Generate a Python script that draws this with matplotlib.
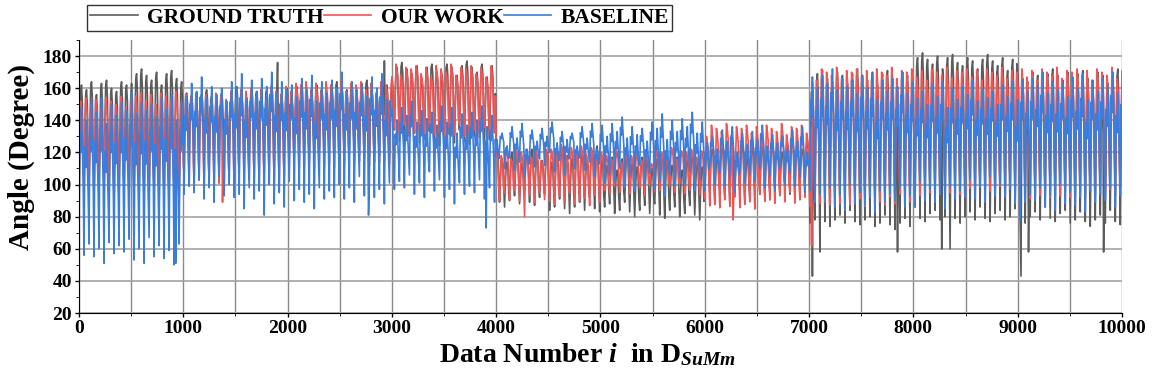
import numpy as np
import matplotlib
matplotlib.use("Agg")
import matplotlib.pyplot as plt
from matplotlib.ticker import MultipleLocator

plt.rcParams['font.family'] = ['Liberation Serif', 'DejaVu Serif']
plt.rcParams['font.weight'] = 'bold'
plt.rcParams['mathtext.fontset'] = 'custom'
plt.rcParams['mathtext.rm'] = 'Liberation Serif'
plt.rcParams['mathtext.it'] = 'Liberation Serif:italic:bold'
plt.rcParams['mathtext.bf'] = 'Liberation Serif:bold'

# envelope of each series per block of 500 samples (0-500, 500-1000, ... 9500-10000)
block_size = 500
step = 8          # samples between drawn points
per_cycle = 6     # drawn points per oscillation (~48 samples)

gt_high = [162, 168, 155, 158, 160, 162, 172, 173, 118, 120,
           115, 115, 122, 125, 168, 168, 178, 177, 168, 168]
gt_low = [90, 88, 120, 118, 120, 118, 128, 128, 90, 86,
          84, 82, 92, 95, 78, 76, 80, 80, 80, 78]

ours_high = [152, 155, 155, 158, 162, 162, 172, 172, 120, 122,
             118, 120, 135, 135, 170, 170, 170, 170, 170, 170]
ours_low = [95, 92, 98, 100, 110, 112, 130, 130, 90, 88,
            95, 95, 85, 88, 85, 85, 92, 92, 90, 90]

base_high = [148, 150, 160, 163, 162, 163, 145, 142, 132, 132,
             135, 138, 130, 130, 165, 163, 158, 158, 163, 163]
base_low = [58, 57, 95, 92, 92, 95, 98, 95, 112, 112,
            102, 100, 102, 102, 90, 90, 92, 95, 90, 90]

# shape of one oscillation (0 = low, 1 = high) as seen in the picture
gt_shape = [0.0, 0.55, 0.95, 1.0, 0.85, 0.35]
ours_shape = [0.05, 0.6, 1.0, 0.92, 0.8, 0.3]
base_shape = [0.0, 0.8, 0.65, 1.0, 0.7, 0.45]

# visible cycle-to-cycle spread of the peaks / troughs (degrees)
gt_spread = [0, -3, 2, -6, 1, 3, -2, -4, 2, 0, -5, 1, 4]
ours_spread = [0, 2, -3, 1, -5, 2, 0, -2, 3, -4, 1]
base_spread = [0, -8, 4, -3, 6, -10, 2, -5, 3, -2, 7, -6, 1, -4]

# isolated spikes (data number, angle)
gt_spikes = [(1900, 176), (2925, 177), (7030, 43), (7100, 58), (7850, 58),
             (8275, 60), (8350, 60), (9030, 43), (9100, 58), (9825, 58)]
ours_spikes = [(1375, 89), (4275, 80), (6275, 78), (7025, 62)]
base_spikes = [(925, 51), (1775, 81), (2775, 81), (3900, 73), (9025, 78)]


def build_series(high, low, shape, spread, spikes):
    x = np.arange(0, 10001, step)
    k = x // step
    blk = np.minimum(x // block_size, len(high) - 1)
    cyc = k // per_cycle
    f = np.array(shape)[k % per_cycle]
    sp = np.array(spread)
    hi = np.array(high)[blk] + sp[cyc % len(sp)]
    lo = np.array(low)[blk] - sp[(cyc + 5) % len(sp)]
    y = lo + f * (hi - lo)
    for xs, v in spikes:
        y[int(round(xs / step))] = v
    return x, y


fig = plt.figure(figsize=(11.55, 3.85), dpi=100)
ax = fig.add_axes([0.0684, 0.187, 0.9030, 0.709])

for xx in np.arange(0, 10001, 500):
    ax.axvline(xx, color='#8a8a8a', lw=1.0, zorder=0)
for yy in np.arange(20, 181, 20):
    ax.axhline(yy, color='#a3a3a3', lw=1.2, zorder=0)

x, y = build_series(gt_high, gt_low, gt_shape, gt_spread, gt_spikes)
l1, = ax.plot(x, y, color='#5c5c5c', lw=1.2, label='GROUND TRUTH')
x, y = build_series(ours_high, ours_low, ours_shape, ours_spread, ours_spikes)
l2, = ax.plot(x, y, color='#f05454', lw=1.2, label='OUR WORK')
x, y = build_series(base_high, base_low, base_shape, base_spread, base_spikes)
l3, = ax.plot(x, y, color='#3a7ddd', lw=1.2, label='BASELINE')

ax.set_xlim(0, 10000)
ax.set_ylim(20, 190)
ax.xaxis.set_major_locator(MultipleLocator(1000))
ax.xaxis.set_minor_locator(MultipleLocator(500))
ax.yaxis.set_minor_locator(MultipleLocator(10))
ax.set_yticks(np.arange(20, 181, 20))
ax.tick_params(labelsize=14, length=3, width=1, pad=2)
ax.tick_params(which='minor', length=2)
ax.spines['top'].set_visible(False)
ax.spines['right'].set_visible(False)

ax.set_ylabel('Angle (Degree)', fontsize=21, fontweight='bold')
ax.yaxis.set_label_coords(-0.042, 0.57)
ax.set_xlabel(r'Data Number $\mathit{i}$  in $\mathrm{D}_{\mathit{SuMm}}$',
              fontsize=20, fontweight='bold', labelpad=1)
ax.xaxis.set_label_coords(0.487, -0.105)

leg = fig.legend(handles=[l1, l2, l3], loc='upper left',
                 bbox_to_anchor=(0.0753, 0.988), ncol=3, fontsize=15.5,
                 frameon=True, fancybox=False, edgecolor='black',
                 handlelength=2.2, handletextpad=0.45, columnspacing=0.0,
                 borderpad=0.15, borderaxespad=0)
leg.get_frame().set_linewidth(1.0)
for t in leg.get_texts():
    t.set_fontweight('bold')

fig.savefig('out.png', dpi=100)
